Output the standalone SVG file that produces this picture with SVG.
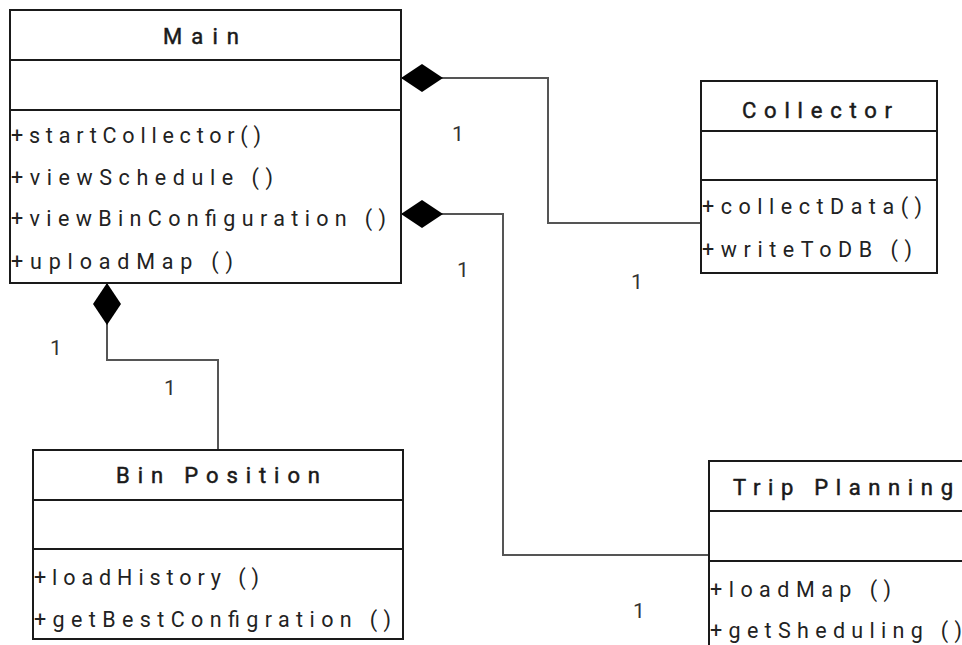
<svg xmlns="http://www.w3.org/2000/svg" width="962" height="645" viewBox="0 0 962 645">
<defs>
<marker id="diamond" viewBox="0 0 42 28" refX="0" refY="14" markerUnits="userSpaceOnUse" markerWidth="42" markerHeight="28" orient="auto">
<path d="M0,14 L21,0 L42,14 L21,28 Z" fill="#000"/>
</marker>
</defs>
<style>
.box{fill:#fff;stroke:#1a1a1a;stroke-width:2}
.div{stroke:#1a1a1a;stroke-width:2}
.title{font-family:Roboto,"Liberation Sans",sans-serif;font-size:22px;font-weight:400;fill:#1a1a1a;stroke:#1a1a1a;stroke-width:0.5px}
.m{font-family:Roboto,"Liberation Sans",sans-serif;font-size:21.5px;fill:#222}
.lbl{font-family:Roboto,"Liberation Sans",sans-serif;font-size:21px;fill:#333}
.conn{fill:none;stroke:#555;stroke-width:2}
</style>
<rect width="962" height="645" fill="#fff"/>
<g id="connectors">
<path class="conn" d="M401,78 H548 V223 H701" marker-start="url(#diamond)"/>
<path class="conn" d="M401,214 H503 V555 H709" marker-start="url(#diamond)"/>
<path class="conn" d="M107,283 V360 H218 V450" marker-start="url(#diamond)"/>
<text class="lbl" x="452" y="141">1</text>
<text class="lbl" x="457" y="277">1</text>
<text class="lbl" x="631" y="289">1</text>
<text class="lbl" x="50" y="355">1</text>
<text class="lbl" x="164" y="395">1</text>
<text class="lbl" x="633" y="618">1</text>
</g>
<g id="main">
<rect class="box" x="10" y="10" width="391" height="273"/>
<line class="div" x1="10" y1="60" x2="401" y2="60"/>
<line class="div" x1="10" y1="110" x2="401" y2="110"/>
<text class="title" x="163" y="44" textLength="76" lengthAdjust="spacing">Main</text>
<text class="m" x="11" y="143" textLength="250" lengthAdjust="spacing">+startCollector()</text>
<text class="m" x="11" y="185" textLength="262" lengthAdjust="spacing">+viewSchedule ()</text>
<text class="m" x="11" y="226" textLength="375" lengthAdjust="spacing">+viewBinConfiguration ()</text>
<text class="m" x="11" y="269" textLength="222" lengthAdjust="spacing">+uploadMap ()</text>
</g>
<g id="collector">
<rect class="box" x="701" y="81" width="236" height="192"/>
<line class="div" x1="701" y1="131" x2="937" y2="131"/>
<line class="div" x1="701" y1="180" x2="937" y2="180"/>
<text class="title" x="742" y="118" textLength="150" lengthAdjust="spacing">Collector</text>
<text class="m" x="702" y="214" textLength="220" lengthAdjust="spacing">+collectData()</text>
<text class="m" x="702" y="257" textLength="210" lengthAdjust="spacing">+writeToDB ()</text>
</g>
<g id="bin-position">
<rect class="box" x="33" y="450" width="370" height="189"/>
<line class="div" x1="33" y1="500" x2="403" y2="500"/>
<line class="div" x1="33" y1="549" x2="403" y2="549"/>
<text class="title" x="116" y="483" textLength="204" lengthAdjust="spacing">Bin Position</text>
<text class="m" x="34" y="585" textLength="225" lengthAdjust="spacing">+loadHistory ()</text>
<text class="m" x="34" y="627" textLength="357" lengthAdjust="spacing">+getBestConfigration ()</text>
</g>
<g id="trip-planning">
<rect class="box" x="709" y="461" width="270" height="200"/>
<line class="div" x1="709" y1="511" x2="962" y2="511"/>
<line class="div" x1="709" y1="561" x2="962" y2="561"/>
<text class="title" x="733" y="495" textLength="220" lengthAdjust="spacing">Trip Planning</text>
<text class="m" x="710" y="597" textLength="181" lengthAdjust="spacing">+loadMap ()</text>
<text class="m" x="710" y="638" textLength="252" lengthAdjust="spacing">+getSheduling ()</text>
</g>
</svg>
